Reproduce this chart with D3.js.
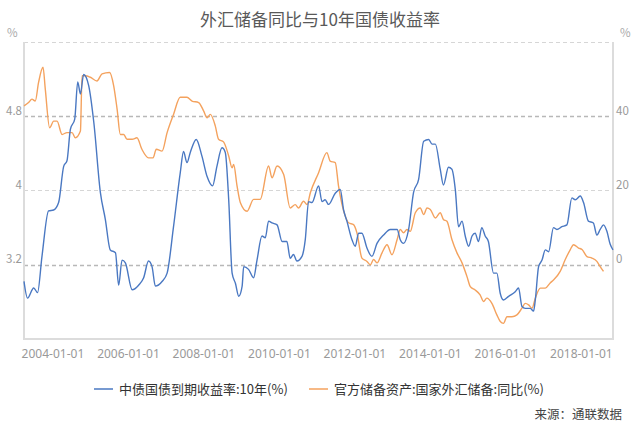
<!DOCTYPE html>
<html>
<head>
<meta charset="utf-8">
<script src="https://cdn.jsdelivr.net/npm/d3@7"></script>
<style>
  html, body { margin: 0; padding: 0; background: #fff; }
  svg { display: block; font-family: "Noto Sans CJK SC", "Noto Sans", sans-serif; }
</style>
</head>
<body>
<svg id="chart" width="640" height="427"></svg>
<script>
// ---------- data ----------
const titleText = "外汇储备同比与10年国债收益率";
const seriesNames = ["中债国债到期收益率:10年(%)", "官方储备资产:国家外汇储备:同比(%)"];
const sourceText = "来源：通联数据";

const xTickLabels = ["2004-01-01","2006-01-01","2008-01-01","2010-01-01","2012-01-01","2014-01-01","2016-01-01","2018-01-01"];
const leftTicks = [3.2, 4, 4.8];
const rightTicks = [0, 20, 40];
const xDomain = ["2003-04-01", "2018-11-08"];
const leftDomain = [2.4, 5.6];
const rightDomain = [-20, 60];

const bondDates = ["2003-04-01","2003-05-05","2003-07-04","2003-08-10","2003-09-22","2003-11-25","2004-01-13","2004-03-01","2004-04-19","2004-05-21","2004-06-23","2004-08-04","2004-09-02","2004-09-28","2004-10-29","2004-12-17","2005-02-05","2005-04-09","2005-05-27","2005-07-14","2005-09-02","2005-10-03","2005-11-05","2005-12-07","2006-02-11","2006-04-14","2006-06-02","2006-07-19","2006-08-22","2006-09-23","2006-11-27","2007-01-15","2007-03-18","2007-05-22","2007-06-23","2007-07-26","2007-08-27","2007-10-24","2007-12-18","2008-02-06","2008-03-30","2008-05-11","2008-06-29","2008-07-31","2008-09-02","2008-10-05","2008-11-06","2008-12-08","2009-01-10","2009-01-25","2009-03-13","2009-05-01","2009-06-03","2009-07-21","2009-08-22","2009-09-23","2009-10-26","2009-12-14","2010-02-01","2010-03-19","2010-04-20","2010-05-22","2010-06-24","2010-08-12","2010-09-13","2010-10-15","2010-11-17","2011-01-20","2011-02-22","2011-03-24","2011-04-26","2011-06-30","2011-08-17","2011-09-19","2011-10-21","2011-12-09","2012-01-10","2012-02-11","2012-03-14","2012-05-02","2012-06-19","2012-08-07","2012-10-10","2012-12-14","2013-02-18","2013-03-20","2013-04-21","2013-06-09","2013-07-27","2013-09-14","2013-11-02","2013-12-20","2014-01-22","2014-02-23","2014-04-11","2014-05-12","2014-06-30","2014-08-02","2014-09-04","2014-10-05","2014-11-08","2014-12-09","2015-01-11","2015-02-13","2015-03-15","2015-04-16","2015-05-18","2015-06-20","2015-07-21","2015-09-09","2015-10-11","2015-11-13","2015-12-14","2016-02-02","2016-04-06","2016-05-08","2016-06-10","2016-07-12","2016-08-29","2016-09-30","2016-10-17","2016-11-18","2016-12-21","2017-01-22","2017-02-23","2017-04-11","2017-05-14","2017-07-01","2017-08-19","2017-10-06","2017-11-08","2017-12-26","2018-01-27","2018-03-15","2018-05-02","2018-06-05","2018-07-07","2018-08-08","2018-09-10","2018-10-12","2018-11-08"];
const bondYield = [3.02,2.84,2.95,2.90,3.29,3.78,3.79,3.87,4.26,4.32,4.66,4.77,5.17,5.04,5.25,5.13,4.73,3.98,3.69,3.36,3.33,2.98,3.25,3.22,2.93,2.98,3.06,3.24,3.18,2.97,3.02,3.11,3.61,4.19,4.42,4.30,4.41,4.55,4.37,4.15,4.05,4.26,4.46,4.41,3.90,3.11,3.00,2.86,2.97,3.18,3.15,3.06,3.25,3.51,3.49,3.67,3.65,3.63,3.45,3.45,3.27,3.31,3.24,3.29,3.47,3.88,3.87,4.05,3.88,3.90,3.85,3.97,4.01,3.79,3.67,3.47,3.40,3.54,3.54,3.38,3.29,3.43,3.52,3.58,3.58,3.47,3.43,3.58,3.98,4.12,4.53,4.55,4.50,4.50,4.23,4.06,4.25,4.23,4.01,3.61,3.67,3.51,3.40,3.51,3.54,3.45,3.60,3.51,3.45,3.11,3.11,2.89,2.82,2.86,2.91,2.95,2.75,2.73,2.73,2.70,2.82,3.18,3.25,3.36,3.34,3.60,3.58,3.61,3.63,3.92,3.90,3.94,3.87,3.67,3.65,3.52,3.58,3.63,3.56,3.42,3.36];

const fxDates = ["2003-04-01","2003-05-15","2003-06-17","2003-07-19","2003-08-20","2003-10-02","2003-10-24","2003-12-05","2004-01-13","2004-02-15","2004-04-03","2004-05-21","2004-07-09","2004-08-10","2004-09-28","2004-10-14","2004-11-16","2005-01-03","2005-03-07","2005-04-25","2005-07-07","2005-08-16","2005-09-18","2005-10-19","2005-11-21","2005-12-23","2006-02-11","2006-03-29","2006-05-16","2006-07-19","2006-09-01","2006-10-02","2006-11-27","2007-01-15","2007-03-18","2007-05-22","2007-07-26","2007-09-13","2007-11-16","2008-01-04","2008-02-06","2008-03-08","2008-04-25","2008-05-27","2008-07-14","2008-09-02","2008-10-05","2008-10-20","2008-11-22","2008-12-24","2009-02-27","2009-05-01","2009-07-04","2009-09-23","2009-10-26","2009-12-14","2010-02-16","2010-04-20","2010-06-08","2010-07-10","2010-08-27","2010-09-30","2010-11-01","2011-01-20","2011-04-10","2011-05-12","2011-06-30","2011-08-01","2011-10-05","2011-11-06","2011-12-24","2012-01-26","2012-03-14","2012-05-02","2012-06-03","2012-07-05","2012-08-07","2012-09-25","2012-11-12","2012-12-30","2013-02-18","2013-03-20","2013-04-21","2013-05-24","2013-06-25","2013-08-13","2013-09-30","2013-11-02","2013-12-04","2014-01-05","2014-02-23","2014-04-11","2014-05-12","2014-06-15","2014-08-02","2014-09-20","2014-11-08","2014-12-26","2015-01-27","2015-03-15","2015-05-02","2015-06-04","2015-07-06","2015-08-24","2015-10-11","2015-11-13","2015-12-14","2016-01-17","2016-03-05","2016-04-22","2016-06-10","2016-07-12","2016-08-13","2016-09-15","2016-10-17","2016-12-05","2017-01-22","2017-03-10","2017-04-11","2017-06-15","2017-08-03","2017-09-21","2017-10-22","2017-12-10","2018-01-12","2018-03-01","2018-04-18","2018-06-05","2018-07-07","2018-08-08"];
const fxYoY = [42.8,43.7,44.6,44.1,49.1,53.2,47.3,36.9,38.7,38.7,35.1,35.6,35.6,34.2,36.0,50.9,50.9,50.5,49.5,51.4,51.8,48.2,41.9,35.1,35.1,33.8,33.8,34.2,31.1,28.8,28.8,31.1,30.6,35.6,40.5,45.1,45.1,44.1,43.7,41.4,39.6,40.5,37.4,33.8,33.1,29.3,26.1,27.0,21.2,16.7,14.4,17.6,17.6,26.6,23.4,26.6,24.3,15.3,16.2,15.3,17.1,16.2,19.4,24.8,30.2,27.9,27.5,21.2,13.1,11.3,10.8,8.6,1.8,0.9,0.0,1.4,0.5,3.2,5.4,2.7,6.8,9.5,8.6,9.5,9.0,14.0,15.3,13.5,15.3,14.9,12.6,14.0,12.2,11.7,6.8,3.2,0.5,-3.2,-5.9,-6.8,-8.1,-9.9,-9.0,-10.4,-13.5,-15.3,-15.8,-14.0,-14.0,-13.5,-11.7,-10.4,-10.8,-11.7,-9.0,-6.3,-6.3,-4.9,-4.1,-1.8,1.4,4.1,5.4,4.5,4.1,2.2,1.8,0.9,-0.5,-1.8];

// ---------- layout ----------
const W = 640, H = 427;
const plot = { left: 24, right: 613, top: 42, bottom: 339 };
const blue = "#4a78c2", orange = "#f4a25e";
const parse = d3.timeParse("%Y-%m-%d");

const svg = d3.select("#chart");
svg.append("rect").attr("width", W).attr("height", H).attr("fill", "#fff");

const x = d3.scaleTime().domain(xDomain.map(parse)).range([plot.left, plot.right]);
const yL = d3.scaleLinear().domain(leftDomain).range([plot.bottom, plot.top]);
const yR = d3.scaleLinear().domain(rightDomain).range([plot.bottom, plot.top]);

// title
svg.append("text").attr("x", 320).attr("y", 26).attr("text-anchor", "middle")
  .attr("font-size", 17).attr("fill", "#595959").text(titleText);

// unit labels
svg.append("text").attr("x", 7).attr("y", 37).attr("font-size", 11.5).attr("fill", "#aaa").text("%");
svg.append("text").attr("x", 620).attr("y", 37).attr("font-size", 11.5).attr("fill", "#aaa").text("%");

// gridlines (top line + ticks)
const gridVals = [leftDomain[1]].concat(leftTicks);
svg.append("g").selectAll("line").data(gridVals).join("line")
  .attr("x1", plot.left).attr("x2", plot.right)
  .attr("y1", d => Math.round(yL(d)) + 0.5).attr("y2", d => Math.round(yL(d)) + 0.5)
  .attr("stroke", (d, i) => (d === 4 || i === 0) ? "#d6d6d6" : "#b8b8b8")
  .attr("stroke-width", (d, i) => (d === 4 || i === 0) ? 1 : 1.5)
  .attr("stroke-dasharray", "4,3");

// frame: left, right, bottom
const frame = svg.append("g").attr("stroke", "#dcdcdc").attr("stroke-width", 2).attr("fill", "none");
frame.append("path").attr("d", `M${plot.left},${plot.top}V${plot.bottom}H${plot.right}V${plot.top}`);

// left axis labels
svg.append("g").selectAll("text").data(leftTicks).join("text")
  .attr("x", 22).attr("y", d => yL(d) - 1.5).attr("text-anchor", "end")
  .attr("font-size", 11.5).attr("fill", "#999").text(d => d3.format("")(d));

// right axis labels
svg.append("g").selectAll("text").data(rightTicks).join("text")
  .attr("x", 616).attr("y", d => yR(d) - 1.5)
  .attr("font-size", 11.5).attr("fill", "#999").text(d => d);

// x axis labels
const xAxis = d3.axisBottom(x).tickValues(xTickLabels.map(parse))
  .tickFormat(d3.timeFormat("%Y-%m-%d")).tickSize(0).tickPadding(10);
const gx = svg.append("g").attr("transform", `translate(0,${plot.bottom})`).call(xAxis);
gx.select(".domain").remove();
gx.selectAll("text").attr("font-size", 12).attr("fill", "#999")
  .attr("font-family", "'Noto Sans', sans-serif");

// lines
const lineL = d3.line().x(d => x(d[0])).y(d => yL(d[1])).curve(d3.curveMonotoneX);
const lineR = d3.line().x(d => x(d[0])).y(d => yR(d[1])).curve(d3.curveMonotoneX);
const bondData = bondDates.map((d, i) => [parse(d), bondYield[i]]);
const fxData = fxDates.map((d, i) => [parse(d), fxYoY[i]]);

svg.append("path").datum(fxData).attr("d", lineR).attr("fill", "none")
  .attr("stroke", orange).attr("stroke-width", 1.4);
svg.append("path").datum(bondData).attr("d", lineL).attr("fill", "none")
  .attr("stroke", blue).attr("stroke-width", 1.4);

// legend
const legend = svg.append("g");
const items = [
  { name: seriesNames[0], color: blue, x: 94 },
  { name: seriesNames[1], color: orange, x: 309 }
];
items.forEach(it => {
  legend.append("line").attr("x1", it.x).attr("x2", it.x + 19)
    .attr("y1", 389).attr("y2", 389).attr("stroke", it.color).attr("stroke-width", 1.5);
  legend.append("text").attr("x", it.x + 25).attr("y", 394)
    .attr("font-size", 13).attr("fill", "#333").text(it.name);
});

// source
svg.append("text").attr("x", 622).attr("y", 419).attr("text-anchor", "end")
  .attr("font-size", 12.5).attr("fill", "#444").text(sourceText);
</script>
</body>
</html>
